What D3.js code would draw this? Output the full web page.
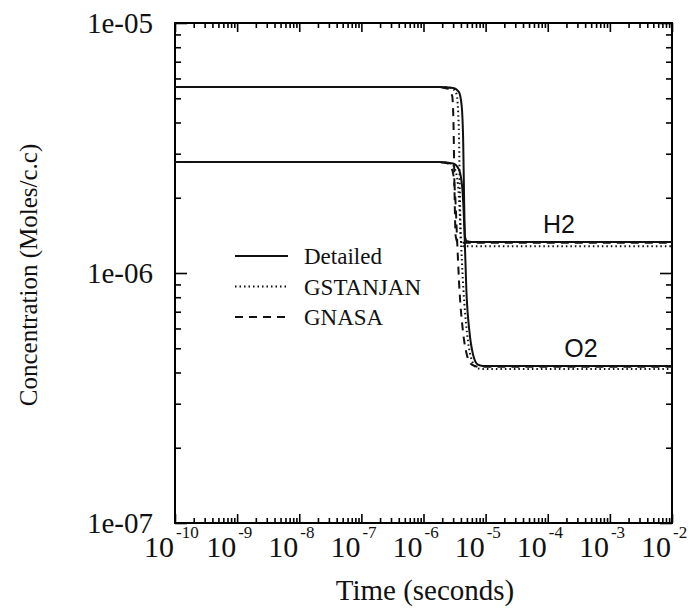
<!DOCTYPE html>
<html lang="en">
<head>
  <meta charset="UTF-8">
  <title>H2 / O2 concentration vs time</title>
  <style>
    body { margin: 0; background: #fff; }
    .frame { fill: none; stroke: #000; stroke-width: 2; }
    .curve { fill: none; stroke: #111; stroke-width: 2; }
    .axis path { display: none; }
    .axis line { stroke: #000; stroke-width: 1.6; }
    .serif { font-family: "Liberation Serif", "DejaVu Serif", serif; fill: #111; }
    .sans { font-family: "Liberation Sans", Arial, sans-serif; fill: #111; }
  </style>
  <script src="https://d3js.org/d3.v7.min.js"></script>
</head>
<body>
<div id="chart"></div>
<script>
  // Tick labels
  var xExponents = [-10, -9, -8, -7, -6, -5, -4, -3, -2];
  var yTickValues = [1e-7, 1e-6, 1e-5];
  var yTickLabels = ["1e-07", "1e-06", "1e-05"];

  // Series: Detailed (solid)
  var tH2Detailed = [1e-10, 1.8e-6, 3.0e-6, 3.7e-6, 4.1e-6, 4.35e-6, 4.5e-6, 4.65e-6, 5.0e-6, 6e-6, 1e-2];
  var cH2Detailed = [5.55e-6, 5.55e-6, 5.5e-6, 5.3e-6, 4.7e-6, 3.4e-6, 2.0e-6, 1.4e-6, 1.34e-6, 1.33e-6, 1.33e-6];
  var tO2Detailed = [1e-10, 1.8e-6, 3.0e-6, 3.7e-6, 4.2e-6, 4.55e-6, 4.9e-6, 5.5e-6, 6.3e-6, 7.5e-6, 9e-6, 1e-2];
  var cO2Detailed = [2.78e-6, 2.78e-6, 2.74e-6, 2.6e-6, 2.2e-6, 1.5e-6, 8.5e-7, 5.8e-7, 4.7e-7, 4.3e-7, 4.25e-7, 4.25e-7];

  // Series: GSTANJAN (dotted)
  var tH2Gstanjan = [1e-10, 1.7e-6, 2.8e-6, 3.4e-6, 3.7e-6, 3.85e-6, 4.0e-6, 4.4e-6, 1e-2];
  var cH2Gstanjan = [5.55e-6, 5.55e-6, 5.5e-6, 5.2e-6, 3.8e-6, 2.1e-6, 1.35e-6, 1.28e-6, 1.28e-6];
  var tO2Gstanjan = [1e-10, 1.7e-6, 2.8e-6, 3.3e-6, 3.7e-6, 4.0e-6, 4.4e-6, 5.0e-6, 5.8e-6, 7.0e-6, 8.5e-6, 1e-2];
  var cO2Gstanjan = [2.78e-6, 2.78e-6, 2.74e-6, 2.55e-6, 2.05e-6, 1.35e-6, 8.5e-7, 5.8e-7, 4.6e-7, 4.2e-7, 4.13e-7, 4.13e-7];

  // Series: GNASA (dashed)
  var tH2Gnasa = [1e-10, 1.6e-6, 2.5e-6, 2.9e-6, 3.05e-6, 3.15e-6, 3.3e-6, 3.6e-6, 1e-2];
  var cH2Gnasa = [5.55e-6, 5.55e-6, 5.45e-6, 5.1e-6, 3.8e-6, 2.2e-6, 1.4e-6, 1.32e-6, 1.32e-6];
  var tO2Gnasa = [1e-10, 1.6e-6, 2.5e-6, 2.95e-6, 3.25e-6, 3.5e-6, 3.8e-6, 4.3e-6, 5.0e-6, 6.0e-6, 7.5e-6, 1e-2];
  var cO2Gnasa = [2.78e-6, 2.78e-6, 2.74e-6, 2.55e-6, 2.0e-6, 1.3e-6, 8.5e-7, 5.9e-7, 4.7e-7, 4.3e-7, 4.22e-7, 4.22e-7];

  var legendNames = ["Detailed", "GSTANJAN", "GNASA"];
  var dashes = [null, "1.5,3", "8,6"];

  var width = 696, height = 609;
  var plotLeft = 175, plotRight = 672, plotTop = 23, plotBottom = 523;

  var svg = d3.select("#chart").append("svg")
    .attr("width", width)
    .attr("height", height);

  var x = d3.scaleLog().domain([1e-10, 1e-2]).range([plotLeft, plotRight]);
  var y = d3.scaleLog().domain([1e-7, 1e-5]).range([plotBottom, plotTop]);

  // minor/major tick positions
  var xMajor = xExponents.map(e => Math.pow(10, e));
  var xMinor = [];
  xMajor.slice(0, -1).forEach(v => { for (var k = 2; k < 10; k++) xMinor.push(v * k); });
  var yMinor = [];
  yTickValues.slice(0, -1).forEach(v => { for (var k = 2; k < 10; k++) yMinor.push(v * k); });

  function addAxis(axisFn, scale, values, size, tx, ty) {
    svg.append("g")
      .attr("class", "axis")
      .attr("transform", "translate(" + tx + "," + ty + ")")
      .call(axisFn(scale).tickValues(values).tickSize(size).tickFormat(""));
  }
  // ticks point inward on all four sides
  addAxis(d3.axisBottom, x, xMajor, -9, 0, plotBottom);
  addAxis(d3.axisBottom, x, xMinor, -5, 0, plotBottom);
  addAxis(d3.axisTop, x, xMajor, -9, 0, plotTop);
  addAxis(d3.axisTop, x, xMinor, -5, 0, plotTop);
  addAxis(d3.axisLeft, y, yTickValues, -12, plotLeft, 0);
  addAxis(d3.axisLeft, y, yMinor, -6, plotLeft, 0);
  addAxis(d3.axisRight, y, yTickValues, -12, plotRight, 0);
  addAxis(d3.axisRight, y, yMinor, -6, plotRight, 0);

  svg.append("rect")
    .attr("class", "frame")
    .attr("x", plotLeft).attr("y", plotTop)
    .attr("width", plotRight - plotLeft).attr("height", plotBottom - plotTop);

  // x tick labels: "10" ends at the tick, exponent as superscript
  var xl = svg.append("g").selectAll("g")
    .data(xExponents)
    .enter().append("g")
    .attr("transform", d => "translate(" + x(Math.pow(10, d)) + ",0)");
  xl.append("text")
    .attr("class", "serif")
    .attr("x", -1).attr("y", 557)
    .attr("text-anchor", "end")
    .attr("font-size", 30)
    .text("10");
  xl.append("text")
    .attr("class", "serif")
    .attr("x", 1).attr("y", 538)
    .attr("font-size", 17)
    .text(d => d);

  // y tick labels
  svg.append("g").selectAll("text")
    .data(yTickValues)
    .enter().append("text")
    .attr("class", "serif")
    .attr("x", 153)
    .attr("y", d => y(d) + 10)
    .attr("text-anchor", "end")
    .attr("font-size", 29)
    .text((d, i) => yTickLabels[i]);

  // axis titles
  svg.append("text")
    .attr("class", "serif")
    .attr("x", 425).attr("y", 600)
    .attr("text-anchor", "middle")
    .attr("font-size", 29)
    .text("Time (seconds)");
  svg.append("text")
    .attr("class", "serif")
    .attr("transform", "translate(37,275) rotate(-90)")
    .attr("text-anchor", "middle")
    .attr("font-size", 25)
    .text("Concentration (Moles/c.c)");

  // curves
  var line = d3.line()
    .x(d => x(d[0]))
    .y(d => y(d[1]))
    .curve(d3.curveMonotoneX);
  var series = [
    { t: tH2Detailed, c: cH2Detailed, k: 0 },
    { t: tO2Detailed, c: cO2Detailed, k: 0 },
    { t: tH2Gstanjan, c: cH2Gstanjan, k: 1 },
    { t: tO2Gstanjan, c: cO2Gstanjan, k: 1 },
    { t: tH2Gnasa, c: cH2Gnasa, k: 2 },
    { t: tO2Gnasa, c: cO2Gnasa, k: 2 }
  ];
  svg.append("g").selectAll("path")
    .data(series)
    .enter().append("path")
    .attr("class", "curve")
    .attr("stroke-dasharray", d => dashes[d.k])
    .attr("d", d => line(d.t.map((t, i) => [t, d.c[i]])));

  // species labels
  svg.append("text").attr("class", "sans")
    .attr("x", 559).attr("y", 233).attr("text-anchor", "middle")
    .attr("font-size", 25).text("H2");
  svg.append("text").attr("class", "sans")
    .attr("x", 581).attr("y", 357).attr("text-anchor", "middle")
    .attr("font-size", 25).text("O2");

  // legend
  var leg = svg.append("g").selectAll("g")
    .data(legendNames)
    .enter().append("g")
    .attr("transform", (d, i) => "translate(0," + (256 + i * 30.5) + ")");
  leg.append("line")
    .attr("x1", 235).attr("x2", 288)
    .attr("stroke", "#111").attr("stroke-width", 2)
    .attr("stroke-dasharray", (d, i) => dashes[i]);
  leg.append("text")
    .attr("class", "serif")
    .attr("x", 304).attr("y", 8)
    .attr("font-size", 23)
    .text(d => d);
</script>
</body>
</html>
